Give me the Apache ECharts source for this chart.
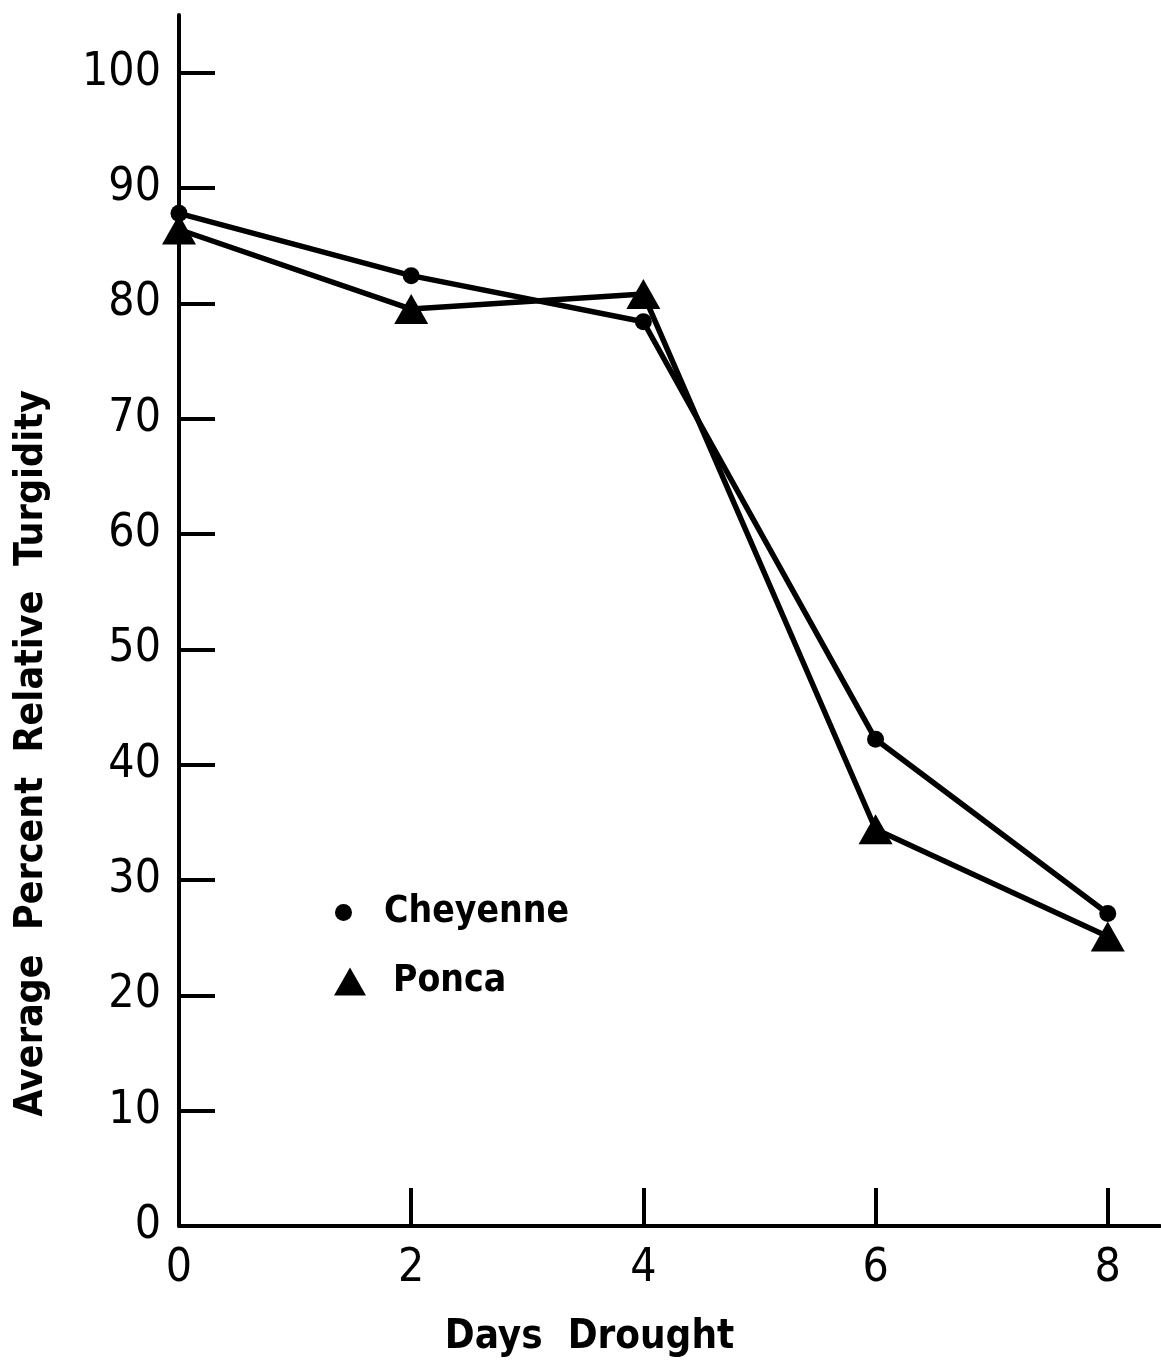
<!DOCTYPE html>
<html><head><meta charset="utf-8">
<script src="https://cdn.jsdelivr.net/npm/echarts@6/dist/echarts.min.js"></script>
<style>html,body{margin:0;padding:0;background:#fff;overflow:hidden}#c{width:1161px;height:1363px}</style>
</head><body><div id="c"></div>
<script>
const days = [0, 2, 4, 6, 8];
const cheyenne = [87.8, 82.4, 78.4, 42.2, 27.1];
const ponca = [86.4, 79.5, 80.8, 34.4, 25.1];
const yTickValues = [10, 20, 30, 40, 50, 60, 70, 80, 90, 100];
const yLabelValues = [0, 10, 20, 30, 40, 50, 60, 70, 80, 90, 100];
const xTickValues = [0, 2, 4, 6, 8];
const seriesNames = ['Cheyenne', 'Ponca'];

const FONT = '"DejaVu Sans Condensed", "DejaVu Sans", sans-serif';
const chart = echarts.init(document.getElementById('c'), null, {renderer: 'canvas'});
chart.setOption({
  backgroundColor: '#fff',
  animation: false,
  grid: {left: 179, right: 1, top: 15, bottom: 133},
  legend: [
    {data: [{name: seriesNames[0], icon: 'circle'}], left: 330, top: 889, itemWidth: 17, itemHeight: 17,
     textStyle: {fontFamily: FONT, fontSize: 37, fontWeight: 'bold', color: '#000', padding: [0, 0, 0, 27]}},
    {data: [{name: seriesNames[1], icon: 'triangle'}], left: 329, top: 958, itemWidth: 32, itemHeight: 28,
     textStyle: {fontFamily: FONT, fontSize: 37, fontWeight: 'bold', color: '#000', padding: [0, 0, 0, 22]}}
  ],
  xAxis: {
    type: 'value', min: 0, max: 8.45,
    name: 'Days  Drought', nameLocation: 'middle', nameGap: 92,
    nameTextStyle: {fontFamily: FONT, fontSize: 40, fontWeight: 'bold', color: '#000', padding: [0, 160, 0, 0]},
    axisLine: {lineStyle: {color: '#000', width: 4}},
    axisTick: {inside: true, length: 38, lineStyle: {color: '#000', width: 4}, customValues: xTickValues},
    axisLabel: {customValues: xTickValues, margin: 20, fontFamily: FONT, fontSize: 46, color: '#000'},
    splitLine: {show: false}
  },
  yAxis: {
    type: 'value', min: 0, max: 105,
    name: 'Average  Percent  Relative  Turgidity', nameLocation: 'middle', nameGap: 128,
    nameTextStyle: {fontFamily: FONT, fontSize: 39, fontWeight: 'bold', color: '#000', padding: [0, 266, 0, 0]},
    axisLine: {show: true, lineStyle: {color: '#000', width: 4}},
    axisTick: {show: true, inside: true, length: 36, lineStyle: {color: '#000', width: 4}, customValues: yTickValues},
    axisLabel: {customValues: yLabelValues, margin: 18, fontFamily: FONT, fontSize: 46, color: '#000'},
    splitLine: {show: false}
  },
  series: [
    {name: seriesNames[0], type: 'line', data: days.map((d, i) => [d, cheyenne[i]]),
     symbol: 'circle', symbolSize: 17, itemStyle: {color: '#000'},
     lineStyle: {color: '#000', width: 5.5}},
    {name: seriesNames[1], type: 'line', data: days.map((d, i) => [d, ponca[i]]),
     symbol: 'triangle', symbolSize: [34, 30], itemStyle: {color: '#000'},
     lineStyle: {color: '#000', width: 5.5}}
  ]
});
</script></body></html>
